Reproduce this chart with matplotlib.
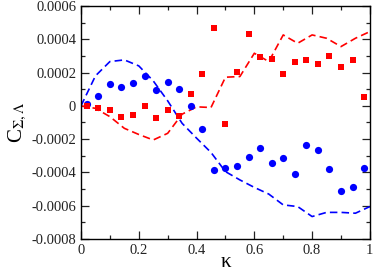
import matplotlib
matplotlib.use('Agg')
import matplotlib.pyplot as plt
from matplotlib.ticker import MultipleLocator
import numpy as np

plt.rcParams['font.family'] = ['Liberation Serif', 'DejaVu Serif']
plt.rcParams['mathtext.fontset'] = 'stix'

# symbols sampled every 0.04 in kappa
kappa_pts = [0.02, 0.06, 0.10, 0.14, 0.18, 0.22, 0.26, 0.30, 0.34, 0.38,
             0.42, 0.46, 0.50, 0.54, 0.58, 0.62, 0.66, 0.70, 0.74, 0.78,
             0.82, 0.86, 0.90, 0.94, 0.98]
blue_pts = [1.2e-5, 6.0e-5, 1.32e-4, 1.16e-4, 1.40e-4, 1.82e-4, 9.6e-5,
            1.46e-4, 1.02e-4, 0.0, -1.42e-4, -3.88e-4, -3.74e-4, -3.62e-4,
            -3.10e-4, -2.52e-4, -3.44e-4, -3.14e-4, -4.12e-4, -2.36e-4,
            -2.64e-4, -3.82e-4, -5.12e-4, -4.86e-4, -3.74e-4]
red_pts = [0.0, -1.0e-5, -2.6e-5, -6.8e-5, -5.4e-5, 0.0, -7.6e-5, -2.6e-5,
           -6.4e-5, 7.4e-5, 1.90e-4, 4.70e-4, -1.12e-4, 2.04e-4, 4.30e-4,
           2.94e-4, 2.82e-4, 1.90e-4, 2.66e-4, 2.76e-4, 2.50e-4, 3.02e-4,
           2.36e-4, 2.74e-4, 5.6e-5]

# dashed curves sampled every 0.05
kappa_line = [0.0, 0.05, 0.10, 0.15, 0.20, 0.25, 0.30, 0.35, 0.40, 0.45,
              0.50, 0.55, 0.60, 0.65, 0.70, 0.75, 0.80, 0.85, 0.90, 0.95, 1.0]
blue_line = [0.0, 1.8e-4, 2.66e-4, 2.76e-4, 2.40e-4, 1.50e-4, 3.0e-5,
             -1.05e-4, -1.94e-4, -2.80e-4, -3.95e-4, -4.45e-4, -4.90e-4,
             -5.30e-4, -5.95e-4, -6.05e-4, -6.65e-4, -6.40e-4, -6.40e-4,
             -6.45e-4, -6.05e-4]
red_line = [0.0, -1.5e-5, -6.5e-5, -1.35e-4, -1.72e-4, -2.05e-4, -1.65e-4,
            -5.0e-5, -6e-6, -1.0e-5, 1.72e-4, 1.76e-4, 3.16e-4, 2.66e-4,
            4.26e-4, 3.76e-4, 4.26e-4, 4.06e-4, 3.56e-4, 4.06e-4, 4.46e-4]

fig = plt.figure(figsize=(3.74, 2.71), dpi=100)
ax = fig.add_axes([0.2166, 0.118, 0.7724, 0.86])

ax.plot(kappa_line, blue_line, color='#0000ff', linestyle=(0, (4.5, 2.5)),
        linewidth=1.2)
ax.plot(kappa_line, red_line, color='#ff0000', linestyle=(0, (4.5, 2.5)),
        linewidth=1.2)
ax.plot(kappa_pts, blue_pts, 'o', color='#0000ff', markersize=5.2,
        markeredgewidth=0)
ax.plot(kappa_pts, red_pts, 's', color='#ff0000', markersize=4.6,
        markeredgewidth=0)

ax.set_xlim(0, 1)
ax.set_ylim(-0.0008, 0.0006)
ax.xaxis.set_minor_locator(MultipleLocator(0.1))
ax.yaxis.set_minor_locator(MultipleLocator(0.0001))
ax.set_xticks(np.arange(0, 1.01, 0.2))
ax.set_xticklabels(['0', '0.2', '0.4', '0.6', '0.8', '1'])
ax.set_yticks(np.arange(-0.0008, 0.00061, 0.0002))
ax.set_yticklabels(['-0.0008', '-0.0006', '-0.0004', '-0.0002', '0',
                    '0.0002', '0.0004', '0.0006'])
ax.tick_params(which='both', direction='in', top=True, right=True,
               labelsize=10.5, width=0.9, colors='#222222')
ax.tick_params(which='major', length=6)
ax.tick_params(which='minor', length=3)
for sp in ax.spines.values():
    sp.set_linewidth(1.0)

ax.set_xlabel('κ', fontsize=15, labelpad=-3)
ax.set_ylabel(r'C$_{\Sigma,\Lambda}$', fontsize=15, labelpad=2)

fig.savefig('out.png', dpi=100)
